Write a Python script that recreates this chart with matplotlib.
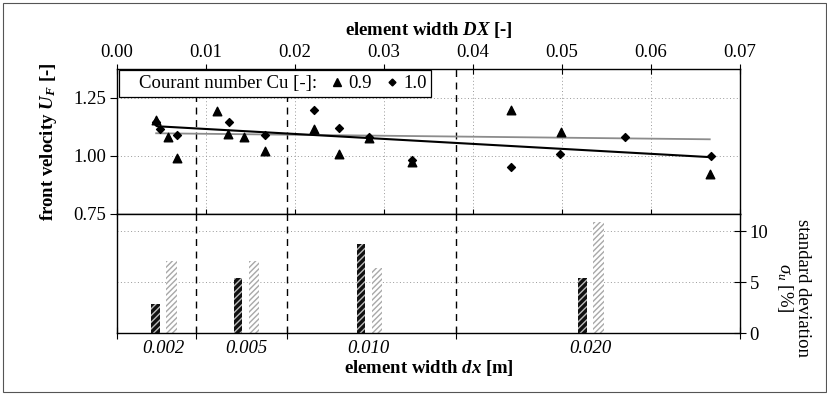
import matplotlib
matplotlib.use("Agg")
import matplotlib.pyplot as plt
from matplotlib.lines import Line2D
from matplotlib.patches import Rectangle

plt.rcParams['font.family'] = ['Liberation Serif', 'DejaVu Serif']
plt.rcParams['mathtext.fontset'] = 'custom'
plt.rcParams['mathtext.rm'] = 'Liberation Serif'
plt.rcParams['mathtext.it'] = 'Liberation Serif:italic'
plt.rcParams['mathtext.bf'] = 'Liberation Serif:italic:bold'
plt.rcParams['font.size'] = 13.5

# front velocity, Cu = 0.9 (triangles)
dx09 = [0.00435, 0.00577, 0.0067, 0.01124, 0.0125, 0.0143, 0.0166, 0.0221, 0.025, 0.0283, 0.0332, 0.0443, 0.0499, 0.0666]
uf09 = [1.155, 1.08, 0.99, 1.195, 1.095, 1.08, 1.021, 1.117, 1.01, 1.076, 0.976, 1.2, 1.103, 0.924]
# front velocity, Cu = 1.0 (diamonds)
dx10 = [0.0044, 0.0048, 0.0067, 0.0126, 0.0166, 0.0221, 0.025, 0.0283, 0.0332, 0.0443, 0.0498, 0.0571, 0.0667]
uf10 = [1.145, 1.117, 1.092, 1.147, 1.092, 1.2, 1.12, 1.08, 0.984, 0.951, 1.01, 1.08, 0.998]
# trend lines
trend_black_x = [0.0046, 0.0667]
trend_black_y = [1.128, 0.995]
trend_gray_x = [0.0044, 0.0666]
trend_gray_y = [1.098, 1.072]

# standard deviation bars per element width dx
dx_labels = ['0.002', '0.005', '0.010', '0.020']
group_pos = [0.00525, 0.0145, 0.0283, 0.0532]
sigma_dark = [2.85, 5.4, 8.75, 5.4]
sigma_light = [7.1, 7.1, 6.4, 10.9]
group_bounds = [0.0, 0.00888, 0.0191, 0.0381, 0.07]

fig = plt.figure(figsize=(8.28, 3.94), dpi=100)
L, W = 117 / 828, 623 / 828
ax = fig.add_axes([L, 1 - 214 / 394, W, 145 / 394])
axb = fig.add_axes([L, 1 - 333 / 394, W, 119 / 394])

# upper panel
ax.set_xlim(0, 0.07)
ax.set_ylim(0.75, 1.375)
for xv in [0.01, 0.02, 0.03, 0.04, 0.05, 0.06]:
    ax.axvline(xv, color='#999999', lw=0.7, ls=(0, (1, 2.5)), zorder=0)
for yv in [1.0, 1.25]:
    ax.axhline(yv, color='#999999', lw=0.7, ls=(0, (1, 2.5)), zorder=0)
for xv in group_bounds[1:-1]:
    ax.axvline(xv, color='black', lw=1.0, ls=(0, (5, 4)), zorder=1)
ax.plot(trend_gray_x, trend_gray_y, color='#8c8c8c', lw=1.3, zorder=2)
ax.plot(trend_black_x, trend_black_y, color='black', lw=1.5, zorder=2)
ax.scatter(dx09, uf09, marker='^', s=38, color='black', zorder=3)
ax.scatter(dx10, uf10, marker='D', s=16, color='black', zorder=3)

ax.tick_params(axis='x', which='both', top=True, bottom=True, labeltop=True, labelbottom=False,
               direction='inout', length=7, width=0.8, pad=2)
ax.set_xticks([0.0, 0.01, 0.02, 0.03, 0.04, 0.05, 0.06, 0.07])
ax.set_xticklabels(['0.00', '0.01', '0.02', '0.03', '0.04', '0.05', '0.06', '0.07'])
ax.xaxis.set_label_position('top')
ax.set_xlabel(r'element width $\mathbf{DX}$ [-]', fontweight='bold', labelpad=7)
ax.set_yticks([0.75, 1.0, 1.25])
ax.set_yticklabels(['0.75', '1.00', '1.25'])
ax.tick_params(axis='y', direction='out', length=5, width=0.8, pad=3)
ax.set_ylabel(r'front velocity $\mathbf{U_F}$ [-]', fontweight='bold', labelpad=10)
for s in ax.spines.values():
    s.set_linewidth(1.0)

blank = Line2D([], [], linestyle='none')
tri = Line2D([], [], marker='^', color='black', linestyle='none', markersize=6)
dia = Line2D([], [], marker='D', color='black', linestyle='none', markersize=3.5)
leg = ax.legend([blank, tri, dia], ['Courant number Cu [-]:', '0.9', '1.0'], ncol=3,
                loc='upper left', bbox_to_anchor=(0.003, 0.99), frameon=True, fancybox=False,
                edgecolor='black', framealpha=1, borderpad=0.25, handlelength=0.5,
                handletextpad=0.35, columnspacing=0.8, borderaxespad=0)
leg.get_frame().set_linewidth(0.9)
leg.set_zorder(5)

# lower panel
axb.set_xlim(0, 0.07)
axb.set_ylim(0, 11.7)
for yv in [5, 10]:
    axb.axhline(yv, color='#999999', lw=0.7, ls=(0, (1, 2.5)), zorder=0)
for xv in group_bounds[1:-1]:
    axb.axvline(xv, color='black', lw=1.0, ls=(0, (5, 4)), zorder=1)
xd = [p - 0.0009 for p in group_pos]
xl = [p + 0.0009 for p in group_pos]
axb.bar(xd, sigma_dark, width=0.00095, color='#111111', edgecolor='#bbbbbb', hatch='/////', lw=0, zorder=2)
axb.bar(xl, sigma_light, width=0.0012, color='white', edgecolor='#a8a8a8', hatch='//////', lw=0, zorder=2)

axb.set_xticks(group_bounds)
axb.set_xticklabels([])
axb.set_xticks(group_pos, minor=True)
axb.set_xticklabels(dx_labels, minor=True, fontstyle='italic')
axb.tick_params(axis='x', which='major', direction='inout', length=8, width=0.8, top=False)
axb.tick_params(axis='x', which='minor', length=0, pad=5)
axb.set_xlabel(r'element width $\mathbf{dx}$ [m]', fontweight='bold', labelpad=1)
axb.yaxis.tick_right()
axb.set_yticks([0, 5, 10])
axb.tick_params(axis='y', direction='inout', length=8, width=0.8, pad=3)
for s in axb.spines.values():
    s.set_linewidth(1.0)

fig.text(0.958, 0.27, 'standard deviation\n' + r'$\sigma_u$ [%]', rotation=-90,
         ha='center', va='center', multialignment='center', linespacing=0.95)

fig.patches.append(Rectangle((0.004, 0.005), 0.994, 0.988, transform=fig.transFigure,
                             fill=False, edgecolor='#555555', lw=0.8))

fig.savefig('out.png', dpi=100)
